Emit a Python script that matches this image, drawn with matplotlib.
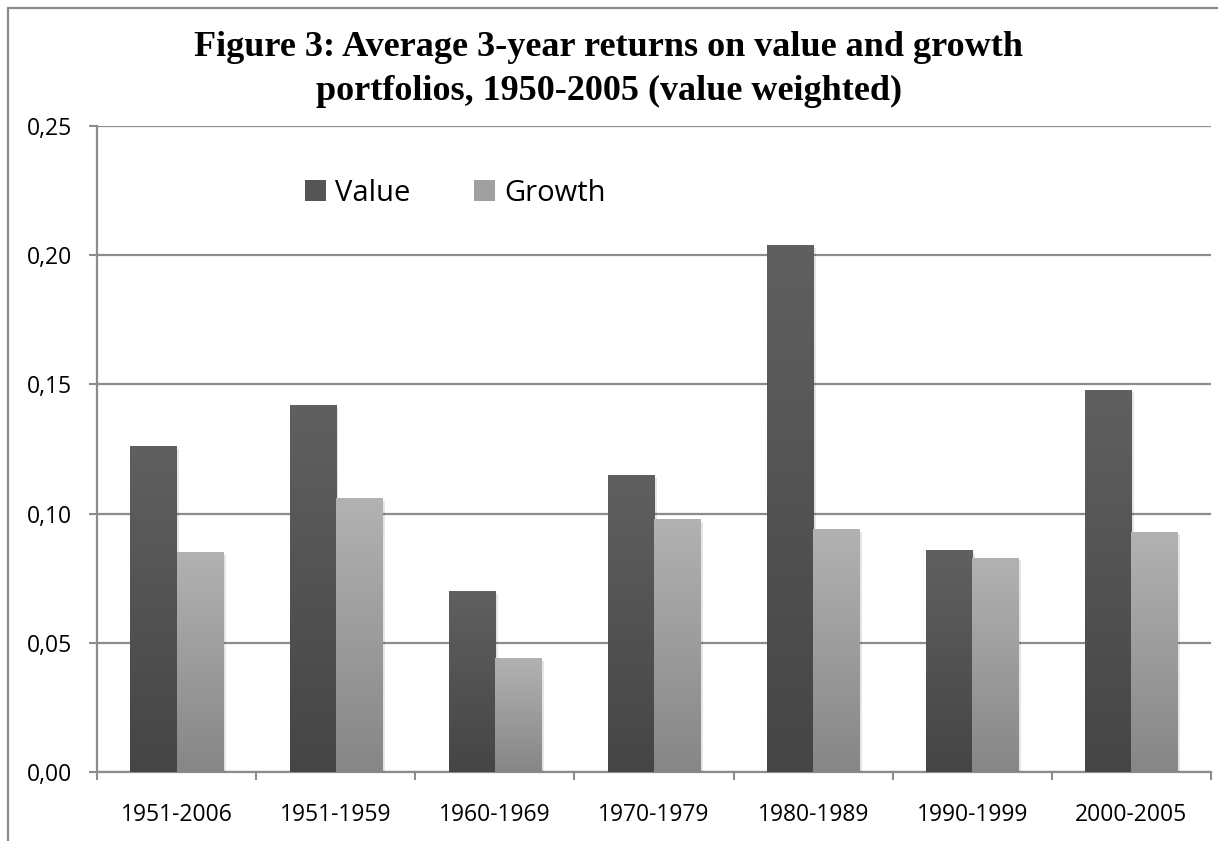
import numpy as np
import matplotlib
matplotlib.use("Agg")
import matplotlib.pyplot as plt
from matplotlib.patches import Patch, Rectangle
from matplotlib.colors import LinearSegmentedColormap
import matplotlib.patheffects as pe

periods = ["1951-2006", "1951-1959", "1960-1969", "1970-1979",
           "1980-1989", "1990-1999", "2000-2005"]
value = [0.126, 0.142, 0.070, 0.115, 0.204, 0.086, 0.148]
growth = [0.085, 0.106, 0.044, 0.098, 0.094, 0.083, 0.093]
yticks = [0.00, 0.05, 0.10, 0.15, 0.20, 0.25]
ytick_labels = ["0,00", "0,05", "0,10", "0,15", "0,20", "0,25"]

grid_col = "#8c8c8c"
plt.rcParams['font.family'] = ['Open Sans', 'DejaVu Sans']

fig = plt.figure(figsize=(12.18, 8.41), dpi=100)
ax = fig.add_axes([97/1218, 69/841, 1114/1218, 646/841])

# outer chart frame (only top and left edges visible in the crop)
fig.patches.append(Rectangle((8/1218, -0.1), 1.2, (841-8)/841 + 0.1,
                             transform=fig.transFigure, fill=False,
                             edgecolor=grid_col, linewidth=1.6))

x = np.arange(len(periods))
w = 0.29

cmap_v = LinearSegmentedColormap.from_list("v", ["#454545", "#606060"])
cmap_g = LinearSegmentedColormap.from_list("g", ["#868686", "#b2b2b2"])
grad = np.linspace(0, 1, 256).reshape(-1, 1)

shadow = [pe.SimplePatchShadow(offset=(2, -2), shadow_rgbFace="#000000", alpha=0.1),
          pe.Normal()]

bars_v = ax.bar(x - w/2, value, w, color="#555555", zorder=3, path_effects=shadow)
bars_g = ax.bar(x + w/2, growth, w, color="#a0a0a0", zorder=3, path_effects=shadow)

# gradient fill per bar, like the Excel original
for bars, cmap in [(bars_v, cmap_v), (bars_g, cmap_g)]:
    for b in bars:
        x0, y0 = b.get_x(), b.get_y()
        im = ax.imshow(grad, cmap=cmap, origin="lower", aspect="auto",
                       extent=[x0, x0 + b.get_width(), y0, y0 + b.get_height()],
                       zorder=4)
        im.set_clip_path(b)

ax.set_xlim(-0.5, len(periods) - 0.5)
ax.set_ylim(0, 0.25)

ax.set_yticks(yticks)
ax.set_yticklabels(ytick_labels)
ax.set_xticks(x)
ax.set_xticklabels(periods)
ax.set_xticks(np.arange(len(periods) + 1) - 0.5, minor=True)
ax.tick_params(axis="x", which="major", length=0, pad=22, labelsize=16.5)
ax.tick_params(axis="x", which="minor", length=6, width=1.5, color=grid_col, direction="out")
ax.tick_params(axis="y", length=6, width=1.5, color=grid_col, pad=12, labelsize=16.5)

ax.grid(axis="y", color=grid_col, linewidth=1.6, zorder=0)
ax.set_axisbelow(True)
for s in ["top", "right"]:
    ax.spines[s].set_visible(False)
for s in ["left", "bottom"]:
    ax.spines[s].set_color(grid_col)
    ax.spines[s].set_linewidth(1.6)

handles = [Patch(facecolor="#555555", label="Value"),
           Patch(facecolor="#a0a0a0", label="Growth")]
ax.legend(handles=handles, loc="center left", bbox_to_anchor=(0.187, 0.896),
          ncol=2, frameon=False, fontsize=21, handlelength=0.7, handleheight=0.7,
          handletextpad=0.31, columnspacing=2.2, borderpad=0, borderaxespad=0)

fig.text(0.5, 1 - 47/841, "Figure 3: Average 3-year returns on value and growth",
         ha="center", va="center", fontsize=26, fontweight="bold",
         family="Liberation Serif")
fig.text(0.5, 1 - 91/841, "portfolios, 1950-2005 (value weighted)",
         ha="center", va="center", fontsize=26, fontweight="bold",
         family="Liberation Serif")

fig.savefig("out.png", dpi=100)
